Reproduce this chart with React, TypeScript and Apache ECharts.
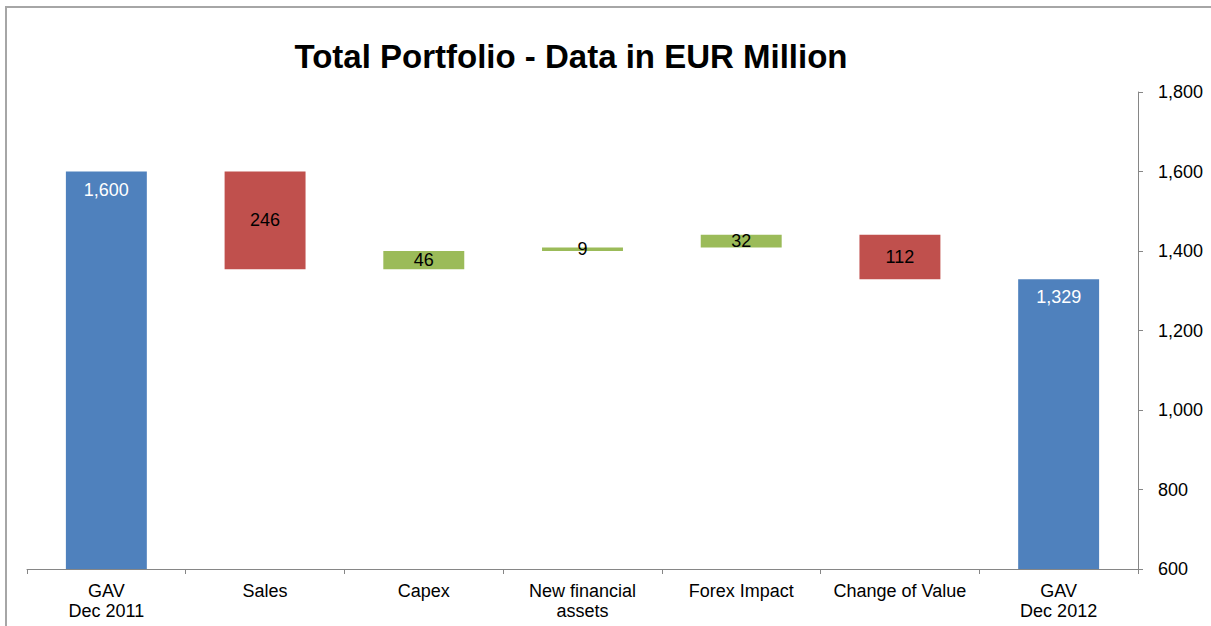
import React, { useEffect, useRef } from "react";
import * as echarts from "echarts";

const titleText = "Total Portfolio - Data in EUR Million";
const categories = [
  "GAV\nDec 2011",
  "Sales",
  "Capex",
  "New financial\nassets",
  "Forex Impact",
  "Change of Value",
  "GAV\nDec 2012",
];
const startValue = 1600;
const deltas = [-246, 46, 9, 32, -112];
const endValue = 1329;
const yMin = 600;
const yMax = 1800;
const yInterval = 200;

const BLUE = "#4F81BD";
const RED = "#C0504D";
const GREEN = "#9BBB59";
const FONT = "Liberation Sans";

function buildSeries() {
  const base: number[] = [];
  const vis: any[] = [];
  base.push(0);
  vis.push({ value: startValue, itemStyle: { color: BLUE }, kind: "total" });
  let running = startValue;
  deltas.forEach((d) => {
    const next = running + d;
    base.push(Math.min(running, next));
    vis.push({ value: Math.abs(d), itemStyle: { color: d < 0 ? RED : GREEN }, kind: "delta" });
    running = next;
  });
  base.push(0);
  vis.push({ value: endValue, itemStyle: { color: BLUE }, kind: "total" });
  return { base, vis };
}

export default function App() {
  const ref = useRef<HTMLDivElement>(null);
  useEffect(() => {
    document.body.style.margin = "0";
    if (!ref.current) return;
    const chart = echarts.init(ref.current, undefined, { renderer: "svg" });
    const { base, vis } = buildSeries();
    const visData = vis.map((v) => ({
      value: v.value,
      itemStyle: v.itemStyle,
      label:
        v.kind === "total"
          ? { show: true, position: "insideTop", distance: 9, color: "#ffffff" }
          : { show: true, position: "inside", color: "#000000" },
    }));
    chart.setOption({
      animation: false,
      backgroundColor: "#ffffff",
      textStyle: { fontFamily: FONT },
      title: {
        text: titleText,
        left: 566,
        textAlign: "center",
        top: 35,
        textStyle: { fontFamily: FONT, fontSize: 33, fontWeight: "bold", color: "#000" },
      },
      graphic: [
        {
          type: "rect",
          shape: { x: 6, y: 7, width: 1400, height: 800 },
          style: { fill: "none", stroke: "#a6a6a6", lineWidth: 2 },
          silent: true,
          z: 100,
        },
      ],
      grid: { left: 27, right: 73, top: 92, bottom: 57, containLabel: false },
      xAxis: {
        type: "category",
        data: categories,
        axisLine: { show: true, lineStyle: { color: "#868686", width: 1 } },
        axisTick: { show: true, alignWithLabel: false, length: 5, lineStyle: { color: "#868686" } },
        axisLabel: { color: "#000", fontSize: 18, fontFamily: FONT, margin: 12, lineHeight: 20, interval: 0 },
      },
      yAxis: {
        type: "value",
        position: "right",
        min: yMin,
        max: yMax,
        interval: yInterval,
        splitLine: { show: false },
        axisLine: { show: true, lineStyle: { color: "#868686", width: 1 } },
        axisTick: { show: true, length: 5, lineStyle: { color: "#868686" } },
        axisLabel: {
          color: "#000",
          fontSize: 18,
          fontFamily: FONT,
          margin: 20,
          formatter: (v: number) => v.toLocaleString("en-US"),
        },
      },
      series: [
        {
          type: "bar",
          stack: "wf",
          data: base,
          itemStyle: { color: "transparent" },
          silent: true,
          barCategoryGap: "49%",
        },
        {
          type: "bar",
          stack: "wf",
          data: visData,
          barCategoryGap: "49%",
          label: {
            fontSize: 18,
            fontFamily: FONT,
            formatter: (p: any) => Number(p.value).toLocaleString("en-US"),
          },
        },
      ],
    });
    return () => chart.dispose();
  }, []);
  return <div ref={ref} style={{ width: 1211, height: 626 }} />;
}
